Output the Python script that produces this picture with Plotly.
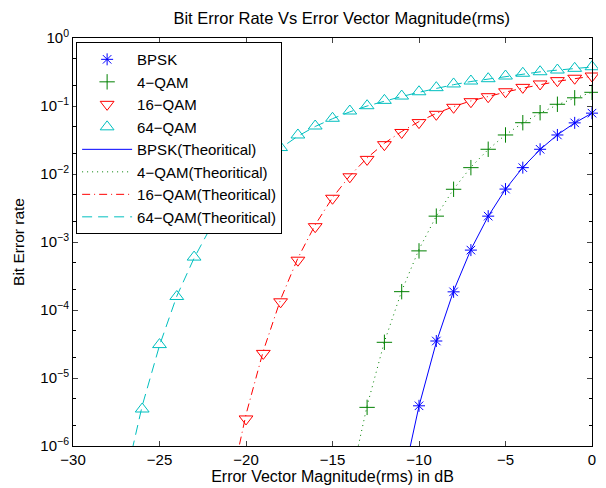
import plotly.graph_objects as go

evm_bpsk = [-10, -9, -8, -7, -6, -5, -4, -3, -2, -1, 0]
ber_bpsk = [3.9e-6, 3.5e-5, 1.85e-4, 7.6e-4, 2.4e-3, 6.0e-3, 0.0124, 0.0231, 0.0375, 0.0565, 0.0785]

evm_qam4 = [-13, -12, -11, -10, -9, -8, -7, -6, -5, -4, -3, -2, -1, 0]
ber_qam4 = [3.7e-6, 3.35e-5, 1.86e-4, 7.4e-4, 2.4e-3, 5.96e-3, 0.0124, 0.0231, 0.0375,
            0.0568, 0.0797, 0.106, 0.132, 0.159]

evm_qam16 = [-20, -19, -18, -17, -16, -15, -14, -13, -12, -11, -10, -9, -8, -7, -6, -5, -4, -3, -2, -1, 0]
ber_qam16 = [2.5e-6, 2.3e-5, 1.32e-4, 5.4e-4, 1.68e-3, 4.4e-3, 9.1e-3, 0.0164, 0.027, 0.0408,
             0.057, 0.0755, 0.0957, 0.1157, 0.137, 0.162, 0.188, 0.211, 0.236, 0.256, 0.276]

evm_qam64 = [-26, -25, -24, -23, -22, -21, -20, -19, -18, -17, -16, -15, -14, -13, -12, -11, -10,
             -9, -8, -7, -6, -5, -4, -3, -2, -1, 0]
ber_qam64 = [3.5e-6, 3.1e-5, 1.58e-4, 6.0e-4, 1.78e-3, 4.2e-3, 8.5e-3, 0.0152, 0.0245, 0.0375,
             0.0508, 0.066, 0.0844, 0.101, 0.121, 0.140, 0.162, 0.186, 0.211, 0.233, 0.252,
             0.276, 0.303, 0.319, 0.338, 0.358, 0.378]

# theoretical curves
evm_bpsk_th = [-11, -10, -9, -8, -7, -6, -5, -4, -3, -2, -1, 0]
ber_bpsk_th = [2.6e-7, 3.87e-6, 3.36e-5, 1.91e-4, 7.74e-4, 2.39e-3, 5.97e-3, 0.0125, 0.0229,
               0.0377, 0.0563, 0.0786]

evm_qam4_th = [-14, -13, -12, -11, -10, -9, -8, -7, -6, -5, -4, -3, -2, -1, 0]
ber_qam4_th = [2.7e-7, 3.9e-6, 3.4e-5, 1.9e-4, 7.8e-4, 2.4e-3, 6.0e-3, 0.0126, 0.0229, 0.0377,
               0.0564, 0.0787, 0.104, 0.131, 0.1587]

evm_qam16_th = [-21, -20, -19, -18, -17, -16, -15, -14, -13, -12, -11, -10, -9, -8, -7, -6, -5,
                -4, -3, -2, -1, 0]
ber_qam16_th = [1.95e-7, 2.9e-6, 2.5e-5, 1.43e-4, 5.8e-4, 1.79e-3, 4.48e-3, 9.4e-3, 0.0172,
                0.0283, 0.0422, 0.059, 0.0778, 0.098, 0.1188, 0.1395, 0.160, 0.183, 0.206,
                0.23, 0.252, 0.274]

evm_qam64_th = [-27, -26, -25, -24, -23, -22, -21, -20, -19, -18, -17, -16, -15, -14, -13, -12,
                -11, -10, -9, -8, -7, -6, -5, -4, -3, -2, -1, 0]
ber_qam64_th = [3.0e-7, 3.9e-6, 3.0e-5, 1.6e-4, 5.8e-4, 1.72e-3, 4.18e-3, 8.5e-3, 0.015, 0.024,
                0.036, 0.050, 0.065, 0.082, 0.100, 0.119, 0.138, 0.159, 0.182, 0.206, 0.229,
                0.25, 0.273, 0.298, 0.318, 0.337, 0.356, 0.375]

x_ticks = [-30, -25, -20, -15, -10, -5, 0]
y_ticks = [1e-6, 1e-5, 1e-4, 1e-3, 1e-2, 1e-1, 1]
y_ticktext = ["10<sup>−6</sup>", "10<sup>−5</sup>", "10<sup>−4</sup>", "10<sup>−3</sup>",
              "10<sup>−2</sup>", "10<sup>−1</sup>", "10<sup>0</sup>"]

BLUE = "#0000FF"
GREEN = "#008000"
RED = "#FF0000"
CYAN = "#00BFBF"
FONT = "Liberation Sans, Arial, sans-serif"

fig = go.Figure()

# measured points (markers only)
fig.add_trace(go.Scatter(x=evm_bpsk, y=ber_bpsk, mode="markers", name="BPSK", cliponaxis=False,
                         marker=dict(symbol="asterisk-open", size=10, color=BLUE, line=dict(color=BLUE, width=1))))
fig.add_trace(go.Scatter(x=evm_qam4, y=ber_qam4, mode="markers", name="4−QAM", cliponaxis=False,
                         marker=dict(symbol="cross-thin-open", size=11, color=GREEN, line=dict(color=GREEN, width=1))))
fig.add_trace(go.Scatter(x=evm_qam16, y=ber_qam16, mode="markers", name="16−QAM", cliponaxis=False,
                         marker=dict(symbol="triangle-down-open", size=12, color=RED, line=dict(color=RED, width=1))))
fig.add_trace(go.Scatter(x=evm_qam64, y=ber_qam64, mode="markers", name="64−QAM", cliponaxis=False,
                         marker=dict(symbol="triangle-up-open", size=12, color=CYAN, line=dict(color=CYAN, width=1))))

# theoretical lines
fig.add_trace(go.Scatter(x=evm_bpsk_th, y=ber_bpsk_th, mode="lines", name="BPSK(Theoritical)",
                         line=dict(color=BLUE, width=1)))
fig.add_trace(go.Scatter(x=evm_qam4_th, y=ber_qam4_th, mode="lines", name="4−QAM(Theoritical)",
                         line=dict(color=GREEN, width=1, dash="1px,4px")))
fig.add_trace(go.Scatter(x=evm_qam16_th, y=ber_qam16_th, mode="lines", name="16−QAM(Theoritical)",
                         line=dict(color=RED, width=1, dash="8px,4px,1px,4px")))
fig.add_trace(go.Scatter(x=evm_qam64_th, y=ber_qam64_th, mode="lines", name="64−QAM(Theoritical)",
                         line=dict(color=CYAN, width=1, dash="10px,6px")))

# the page body keeps an 8px margin, so the figure is 8px smaller than the window
fig.update_layout(
    width=598, height=480,
    margin=dict(l=65, r=14, t=30, b=42, autoexpand=False),
    paper_bgcolor="white", plot_bgcolor="white",
    font=dict(family=FONT, size=15, color="black"),
    title=dict(text="Bit Error Rate Vs Error Vector Magnitude(rms)", x=0.558, xanchor="center",
               y=0.979, yanchor="middle", font=dict(size=16.5)),
    xaxis=dict(
        range=[-30, 0], tickvals=x_ticks, ticks="inside", ticklen=5,
        tickfont=dict(size=15),
        showline=True, linecolor="black", linewidth=1, mirror="ticks",
        showgrid=False, zeroline=False,
        title=dict(text="Error Vector Magnitude(rms) in dB", standoff=0, font=dict(size=16)),
    ),
    yaxis=dict(
        type="log", range=[-6, 0], tickvals=y_ticks, ticktext=y_ticktext,
        ticks="inside", ticklen=5, tickfont=dict(size=15),
        minor=dict(ticks="inside", ticklen=3, tickcolor="black", showgrid=False),
        showline=True, linecolor="black", linewidth=1, mirror="ticks",
        showgrid=False, zeroline=False,
        title=dict(text="Bit Error rate", standoff=11, font=dict(size=15.5)),
    ),
    legend=dict(
        x=0.006, y=0.99, xanchor="left", yanchor="top",
        bgcolor="white", bordercolor="black", borderwidth=1,
        font=dict(size=15), itemwidth=50, tracegroupgap=0,
    ),
    showlegend=True,
)

fig.write_html("out.html")
